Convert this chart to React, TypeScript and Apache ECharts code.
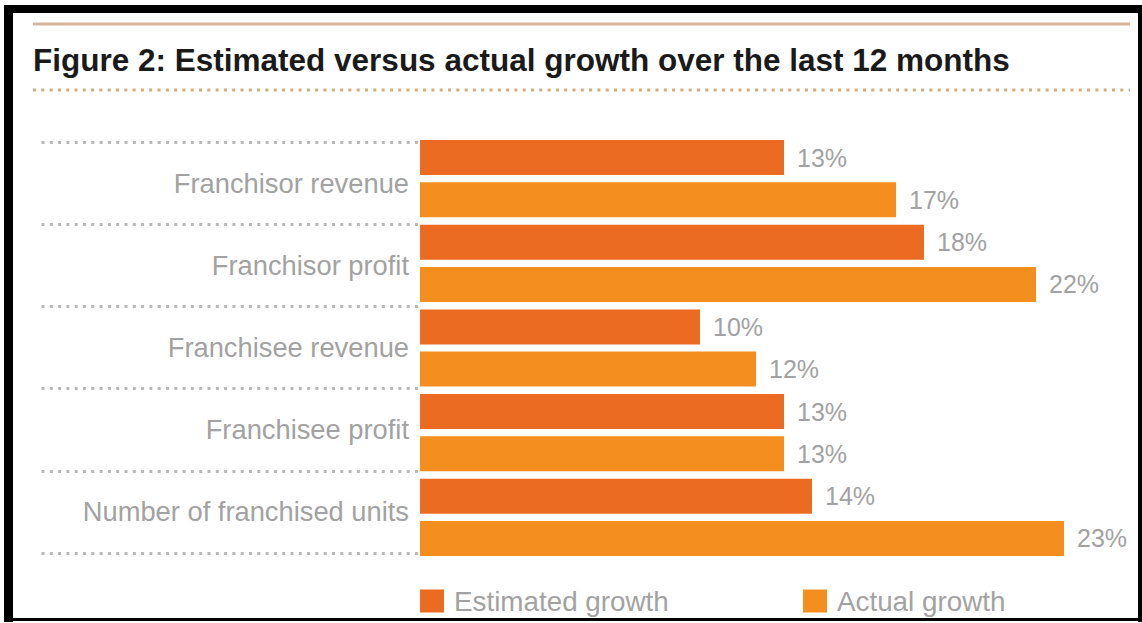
import React, { useEffect, useRef } from "react";
import * as echarts from "echarts";

const categories = [
  "Franchisor revenue",
  "Franchisor profit",
  "Franchisee revenue",
  "Franchisee profit",
  "Number of franchised units",
];
const estimatedGrowth = [13, 18, 10, 13, 14];
const actualGrowth = [17, 22, 12, 13, 23];
const seriesNames = ["Estimated growth", "Actual growth"];
const titleText = "Figure 2: Estimated versus actual growth over the last 12 months";

const FONT = "'Liberation Sans', Arial, Helvetica, sans-serif";
const EST_COLOR = "#EC6B22";
const ACT_COLOR = "#F48F1F";
const GRAY = "#a2a2a2";

export default function App() {
  const ref = useRef<HTMLDivElement>(null);

  useEffect(() => {
    if (!ref.current) return;
    const chart = echarts.init(ref.current, undefined, { renderer: "svg" });

    const labelStyle = {
      show: true,
      position: "right",
      distance: 13,
      formatter: "{c}%",
      fontSize: 25,
      color: GRAY,
      fontFamily: FONT,
    };

    const legendBase = {
      top: 587,
      padding: 0,
      itemWidth: 24,
      itemHeight: 23,
      icon: "rect",
      selectedMode: false,
      textStyle: { fontSize: 27.8, color: GRAY, fontFamily: FONT, padding: [0, 0, 0, 5] },
    };

    chart.setOption({
      animation: false,
      backgroundColor: "#ffffff",
      textStyle: { fontFamily: FONT },
      grid: [
        { left: 420, top: 136.4, width: 700, height: 423.2 },
        { left: 418, top: 142, width: 1, height: 411 },
      ],
      xAxis: [
        { gridIndex: 0, type: "value", min: 0, max: 25, show: false },
        { gridIndex: 1, type: "value", min: 0, max: 1, show: false },
      ],
      yAxis: [
        { gridIndex: 0, type: "category", data: categories, inverse: true, show: false },
        {
          gridIndex: 1,
          type: "category",
          data: categories,
          inverse: true,
          axisLine: { show: false },
          axisTick: {
            show: true,
            interval: 0,
            length: 381,
            lineStyle: { color: "#b8b8b8", width: 3, type: [3, 5.3] },
          },
          axisLabel: {
            interval: 0,
            margin: 9,
            fontSize: 27.3,
            color: GRAY,
            fontFamily: FONT,
          },
          splitLine: { show: false },
        },
      ],
      legend: [
        { ...legendBase, left: 420, data: [seriesNames[0]] },
        { ...legendBase, left: 803, data: [seriesNames[1]] },
      ],
      series: [
        {
          type: "bar",
          name: seriesNames[0],
          xAxisIndex: 0,
          yAxisIndex: 0,
          data: estimatedGrowth,
          barWidth: 35,
          barGap: "20.6%",
          itemStyle: { color: EST_COLOR },
          label: labelStyle,
        },
        {
          type: "bar",
          name: seriesNames[1],
          xAxisIndex: 0,
          yAxisIndex: 0,
          data: actualGrowth,
          barWidth: 35,
          barGap: "20.6%",
          itemStyle: { color: ACT_COLOR },
          label: labelStyle,
        },
      ],
      graphic: [
        // black frame
        { type: "rect", shape: { x: 4, y: 5, width: 1138, height: 8 }, style: { fill: "#000" } },
        { type: "rect", shape: { x: 4, y: 5, width: 9, height: 617 }, style: { fill: "#000" } },
        { type: "rect", shape: { x: 1138, y: 5, width: 4, height: 617 }, style: { fill: "#000" } },
        { type: "rect", shape: { x: 4, y: 618, width: 1138, height: 3 }, style: { fill: "#000" } },
        // top tan rule
        {
          type: "line",
          shape: { x1: 33, y1: 24, x2: 1130, y2: 24 },
          style: { stroke: "#d8b597", lineWidth: 3 },
        },
        // title
        {
          type: "text",
          x: 33,
          y: 60,
          style: {
            text: titleText,
            fontFamily: FONT,
            fontSize: 31.5,
            fontWeight: "bold",
            fill: "#1a1a1a",
            verticalAlign: "middle",
            align: "left",
          },
        },
        // dotted rule under title
        {
          type: "line",
          shape: { x1: 33, y1: 90, x2: 1130, y2: 90 },
          style: { stroke: "#d6ab78", lineWidth: 3, lineDash: [3, 5.3] },
        },
      ],
    });

    return () => chart.dispose();
  }, []);

  return (
    <div
      ref={ref}
      style={{ position: "absolute", left: 0, top: 0, width: 1142, height: 623 }}
    />
  );
}
